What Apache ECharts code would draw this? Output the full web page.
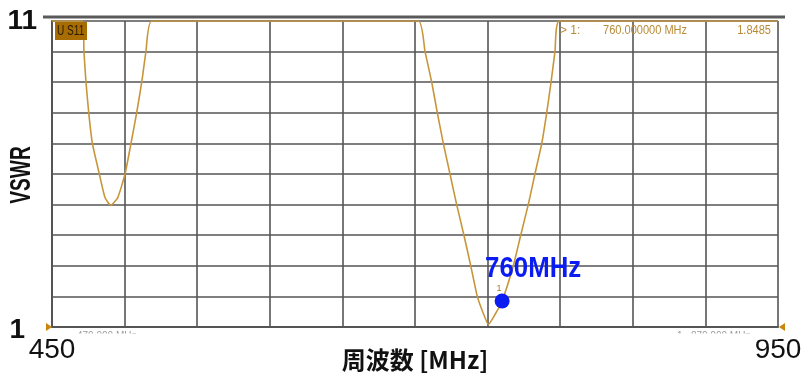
<!DOCTYPE html>
<html>
<head>
<meta charset="utf-8">
<script src="https://cdn.jsdelivr.net/npm/echarts@6/dist/echarts.min.js"></script>
<style>
  html, body { margin: 0; padding: 0; background: #ffffff; }
  #chart { width: 803px; height: 379px; }
</style>
</head>
<body>
<div id="chart"></div>
<script>
// S11 sweep expressed as VSWR (values above 11 are pinned to the top of the scale)
const freqMHz = [450, 471.1, 472.0, 473.4, 475.3, 477.8, 482.6, 486.5, 490.4, 495.3,
                 500.3, 504.4, 508.3, 511.8, 514.7, 518.7,
                 702.3, 706.9, 711.5, 715.4, 719.5, 724.1, 728.7, 733.7, 738.4, 742.9,
                 747.0, 750.5, 755.0, 760.0, 767.7, 772.8, 778.0, 782.6, 787.3, 790.7,
                 793.7, 796.4, 799.4, 950];
const vswr = [11, 11, 10, 9, 8, 7, 6, 5.23, 4.97, 5.23,
              6, 7, 8, 9, 10, 11,
              11, 10, 9, 8, 7, 6, 5, 4, 3, 2,
              1.45, 1.08, 1.4, 1.8485, 3, 4, 5, 6, 7, 8,
              9, 10, 11, 11];

// axis labelling
const xTickLabels = [450, 950];
const yTickLabels = [1, 11];
const xAxisTitle = '周波数 [MHz]';
const yAxisTitle = 'VSWR';

// marker 1
const markerFreq = 760;
const markerVswr = 1.8485;
const traceTitle = 'U S11';

const X_MIN = 450, X_MAX = 950, Y_MIN = 1, Y_MAX = 11;
const traceColor = '#c8963a';
const gridColor = '#555555';
const markerBlue = '#0b1cf2';

const chart = echarts.init(document.getElementById('chart'), null, { renderer: 'canvas' });
const trace = freqMHz.map((f, i) => [f, vswr[i]]);

chart.setOption({
  animation: false,
  grid: { left: 52, right: 25, top: 21, bottom: 52, containLabel: false, outerBoundsMode: 'none' },
  xAxis: {
    type: 'value', min: X_MIN, max: X_MAX, interval: 50,
    axisLine: { show: true, lineStyle: { color: gridColor, width: 2 } },
    axisTick: { show: false },
    splitLine: { show: true, lineStyle: { color: gridColor, width: 1.6 } },
    axisLabel: {
      interval: 0, showMinLabel: true, showMaxLabel: true,
      formatter: v => (xTickLabels.includes(v) ? String(v) : ''),
      fontSize: 28, color: '#111', fontFamily: 'Liberation Sans, Arial, sans-serif',
      margin: 9
    },
    name: xAxisTitle, nameLocation: 'middle', nameGap: 21, nameMoveOverlap: false,
    nameTextStyle: { fontSize: 24, fontWeight: 'bold', color: '#111',
                     fontFamily: 'Noto Sans CJK JP, sans-serif' }
  },
  yAxis: {
    type: 'value', min: Y_MIN, max: Y_MAX, interval: 1,
    axisLine: { show: true, lineStyle: { color: gridColor, width: 2 } },
    axisTick: { show: false },
    splitLine: { show: true, lineStyle: { color: gridColor, width: 1.6 } },
    axisLabel: {
      margin: 15,
      formatter: v => {
        if (!yTickLabels.includes(v)) return '';
        return v === Y_MAX ? '{hi|' + v + '}' : '{lo|' + v + '}';
      },
      rich: {
        hi: { fontSize: 28, fontWeight: 'bold', color: '#111', fontFamily: 'Liberation Sans, Arial, sans-serif' },
        lo: { fontSize: 28, fontWeight: 'bold', color: '#111', fontFamily: 'Liberation Sans, Arial, sans-serif',
              padding: [6, 12, 0, 0] }
      }
    }
  },
  series: [
    {
      type: 'line', data: trace, showSymbol: false, smooth: 0.15, clip: true,
      lineStyle: { color: traceColor, width: 1.6 }, z: 3
    },
    {
      type: 'scatter', data: [[markerFreq, markerVswr]], symbolSize: 15,
      itemStyle: { color: markerBlue, opacity: 1 }, z: 5
    }
  ]
});

// overlay annotations placed from the axis scales
const px = (f, v) => chart.convertToPixel({ gridIndex: 0 }, [f, v]);
const tl = px(X_MIN, Y_MAX);
const br = px(X_MAX, Y_MIN);
const dot = px(markerFreq, markerVswr);
const annoFont = 'Liberation Sans, Arial, sans-serif';
const readoutColor = '#b98a36';

const g = [];
// heavy frame rule above the plot
g.push({ type: 'line', z: 10, shape: { x1: tl[0] - 9, y1: tl[1] - 4, x2: br[0] + 7, y2: tl[1] - 4 },
         style: { stroke: '#5a5a5a', lineWidth: 3 } });
// sweep start / stop indicators on the baseline
g.push({ type: 'polygon', z: 10, shape: { points: [[tl[0] - 6, br[1] - 4], [tl[0] - 6, br[1] + 4], [tl[0], br[1]]] },
         style: { fill: '#c8860a' } });
g.push({ type: 'polygon', z: 10, shape: { points: [[br[0] + 7, br[1] - 4], [br[0] + 7, br[1] + 4], [br[0] + 1, br[1]]] },
         style: { fill: '#c8860a' } });
// trace tag
g.push({ type: 'rect', z: 10, shape: { x: tl[0] + 3, y: tl[1] + 1, width: 32, height: 18 },
         style: { fill: '#a76d02' } });
g.push({ type: 'text', z: 11, x: tl[0] + 5, y: tl[1] + 10, scaleX: 0.72,
         style: { text: traceTitle, font: '14px ' + annoFont, fill: '#2a1b00', verticalAlign: 'middle', align: 'left' } });
// marker readout in the top-right corner
g.push({ type: 'text', z: 11, x: 560, y: tl[1] + 10,
         style: { text: '> 1:', font: '12px ' + annoFont, fill: readoutColor, verticalAlign: 'middle', align: 'left' } });
g.push({ type: 'text', z: 11, x: 603, y: tl[1] + 10, scaleX: 0.92,
         style: { text: markerFreq.toFixed(6) + ' MHz', font: '12px ' + annoFont, fill: readoutColor, verticalAlign: 'middle', align: 'left' } });
g.push({ type: 'text', z: 11, x: br[0] - 7, y: tl[1] + 10, scaleX: 0.92,
         style: { text: markerVswr.toFixed(4), font: '12px ' + annoFont, fill: readoutColor, verticalAlign: 'middle', align: 'right' } });
// marker index above the dot
g.push({ type: 'text', z: 11, x: dot[0] - 3, y: dot[1] - 13,
         style: { text: '1', font: '9px ' + annoFont, fill: '#a57a30', verticalAlign: 'middle', align: 'center' } });
// marker frequency callout
g.push({ type: 'text', z: 12, x: dot[0] - 17, y: dot[1] - 32, scaleX: 0.86,
         style: { text: markerFreq + 'MHz', font: 'bold 30px ' + annoFont, fill: markerBlue, verticalAlign: 'middle', align: 'left' } });
// vertical axis title
g.push({ type: 'text', z: 11, x: 22, y: (tl[1] + br[1]) / 2 + 1, rotation: Math.PI / 2, scaleX: 0.66,
         style: { text: yAxisTitle, font: 'bold 29px ' + annoFont, fill: '#111', verticalAlign: 'middle', align: 'center' } });
// partly hidden start/stop captions under the baseline
g.push({ type: 'text', z: 11, x: tl[0] + 25, y: br[1] + 4,
         style: { text: '470.000 MHz', font: '10px ' + annoFont, fill: '#9a9a9a', verticalAlign: 'top', align: 'left' } });
g.push({ type: 'text', z: 11, x: br[0] - 101, y: br[1] + 4,
         style: { text: '1   870.000 MHz', font: '10px ' + annoFont, fill: '#9a9a9a', verticalAlign: 'top', align: 'left' } });
g.push({ type: 'rect', z: 12, shape: { x: tl[0] + 20, y: br[1] + 6.5, width: 80, height: 6 }, style: { fill: '#ffffff' } });
g.push({ type: 'rect', z: 12, shape: { x: br[0] - 106, y: br[1] + 6.5, width: 106, height: 6 }, style: { fill: '#ffffff' } });

chart.setOption({ graphic: { elements: g } });
</script>
</body>
</html>
